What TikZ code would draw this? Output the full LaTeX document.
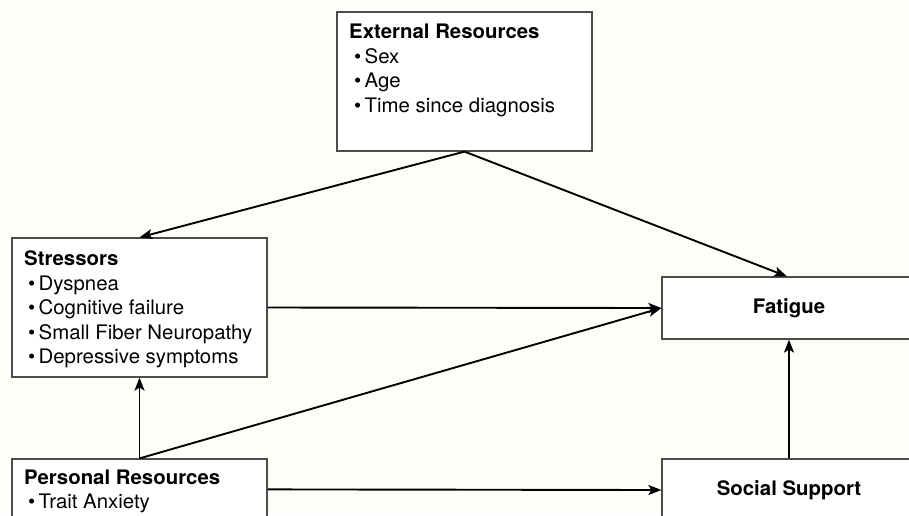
\documentclass[tikz,border=0pt]{standalone}
\usepackage{fontspec}
\setmainfont{TeX Gyre Heros}[FakeStretch=1.02]
\usetikzlibrary{arrows.meta}
\tikzset{
  box/.style={draw=black!70, line width=1.2pt, fill=white, inner sep=0pt, rectangle},
  txt/.style={anchor=base west, inner sep=0pt, font=\fontsize{20}{24}\selectfont},
  ttl/.style={txt, font=\fontsize{20}{24}\selectfont\bfseries},
  conn/.style={line width=1.9pt, -{Stealth[length=13pt,width=10pt,inset=3pt]}}
}
\begin{document}
\begin{tikzpicture}[x=1pt,y=-1pt]
\useasboundingbox (0,0) rectangle (909,515);
\clip (0,0) rectangle (909,515);
\fill[white!97!yellow!60!white] (0,0) rectangle (909,515);
% boxes
\node[box, minimum width=255pt, minimum height=139pt] (ext) at (464.5,81.5) {};
\node[box, minimum width=255pt, minimum height=139pt] (str) at (139.5,307.5) {};
\node[box, minimum width=255pt, minimum height=139pt] (per) at (139.5,528.5) {};
\node[box, minimum width=254pt, minimum height=62pt, font=\fontsize{20}{24}\selectfont\bfseries] (fat) at (789,308) {Fatigue};
\node[box, minimum width=254pt, minimum height=62pt, font=\fontsize{20}{24}\selectfont\bfseries] (soc) at (789,490) {Social Support};
% texts
\node[ttl] (extT) at (349,38.5) {External Resources};
\node[txt] (ext1) at (354,63) {\textbullet\,Sex};
\node[txt] (ext2) at (354,87.5) {\textbullet\,Age};
\node[txt] (ext3) at (354,112) {\textbullet\,Time since diagnosis};
\node[ttl] (strT) at (24,265.7) {Stressors};
\node[txt] (str1) at (28,290.2) {\textbullet\,Dyspnea};
\node[txt] (str2) at (28,314.7) {\textbullet\,Cognitive failure};
\node[txt] (str3) at (28,339.2) {\textbullet\,Small Fiber Neuropathy};
\node[txt] (str4) at (28,363.7) {\textbullet\,Depressive symptoms};
\node[ttl] (perT) at (24,484) {Personal Resources};
\node[txt] (per1) at (28,508.5) {\textbullet\,Trait Anxiety};
% connectors
\draw[conn] (ext.south) -- (str.north);
\draw[conn] (ext.south) -- ([xshift=-2pt]fat.north);
\draw[conn] (str.east) -- (fat.west);
\draw[conn] (per.north) -- (str.south);
\draw[conn] (per.north) -- (fat.west);
\draw[conn] ([yshift=-31pt]per.north east) -- (soc.west);
\draw[conn] (soc.north) -- (fat.south);
\end{tikzpicture}
\end{document}
